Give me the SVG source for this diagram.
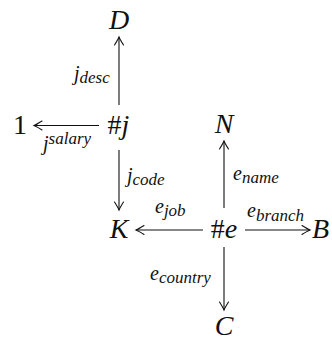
<svg xmlns="http://www.w3.org/2000/svg" width="332" height="340" viewBox="0 0 332 340">
  <style>
    text { font-family: "Liberation Serif", "DejaVu Serif", serif; fill: #111; }
    .node { font-size: 28px; text-anchor: middle; }
    .it { font-style: italic; }
    .up { font-style: normal; }
    .lbl { font-size: 20px; font-style: italic; }
    .sub { font-size: 17px; font-style: italic; }
    .arrow { stroke: #111; stroke-width: 1.1; fill: none; marker-end: url(#tip); }
  </style>
  <defs>
    <!-- open, slightly curved arrowhead -->
    <marker id="tip" markerUnits="userSpaceOnUse" markerWidth="14" markerHeight="14" viewBox="-11 -7 14 14" refX="0" refY="0" orient="auto">
      <path d="M -8 -4.5 Q -2.5 -1 0 0 Q -2.5 1 -8 4.5" stroke="#111" stroke-width="1.1" fill="none" stroke-linecap="round"/>
    </marker>
  </defs>

  <g id="node-D"><text class="node it" x="119" y="29">D</text></g>
  <g id="node-hash-j"><text class="node" x="118.5" y="134"><tspan class="up">#</tspan><tspan class="it">j</tspan></text></g>
  <g id="node-one"><text class="node up" x="20" y="134">1</text></g>
  <g id="node-N"><text class="node it" x="224" y="133">N</text></g>
  <g id="node-K"><text class="node it" x="119" y="238">K</text></g>
  <g id="node-hash-e"><text class="node" x="224" y="238"><tspan class="up">#</tspan><tspan class="it">e</tspan></text></g>
  <g id="node-B"><text class="node it" x="312" y="238" style="text-anchor:start">B</text></g>
  <g id="node-C"><text class="node it" x="224" y="335">C</text></g>

  <g id="connectors">
    <line class="arrow" x1="119" y1="105" x2="119" y2="37"/>
    <line class="arrow" x1="99" y1="125.5" x2="34" y2="125.5"/>
    <line class="arrow" x1="119" y1="150" x2="119" y2="210"/>
    <line class="arrow" x1="224" y1="208" x2="224" y2="141"/>
    <line class="arrow" x1="203" y1="230" x2="136" y2="230"/>
    <line class="arrow" x1="245" y1="230" x2="310" y2="230"/>
    <line class="arrow" x1="224" y1="247" x2="224" y2="310"/>

    <!-- arrow labels -->
    <text class="lbl" x="74" y="80">j<tspan class="sub" dy="3">desc</tspan></text>
    <text class="lbl" x="43" y="150">j<tspan class="sub" dy="-6">salary</tspan></text>
    <text class="lbl" x="127" y="182">j<tspan class="sub" dy="3">code</tspan></text>
    <text class="lbl" x="233" y="180">e<tspan class="sub" dy="3">name</tspan></text>
    <text class="lbl" x="155" y="213">e<tspan class="sub" dy="3">job</tspan></text>
    <text class="lbl" x="247" y="217">e<tspan class="sub" dy="4">branch</tspan></text>
    <text class="lbl" x="150" y="280">e<tspan class="sub" dy="3">country</tspan></text>
  </g>
</svg>
